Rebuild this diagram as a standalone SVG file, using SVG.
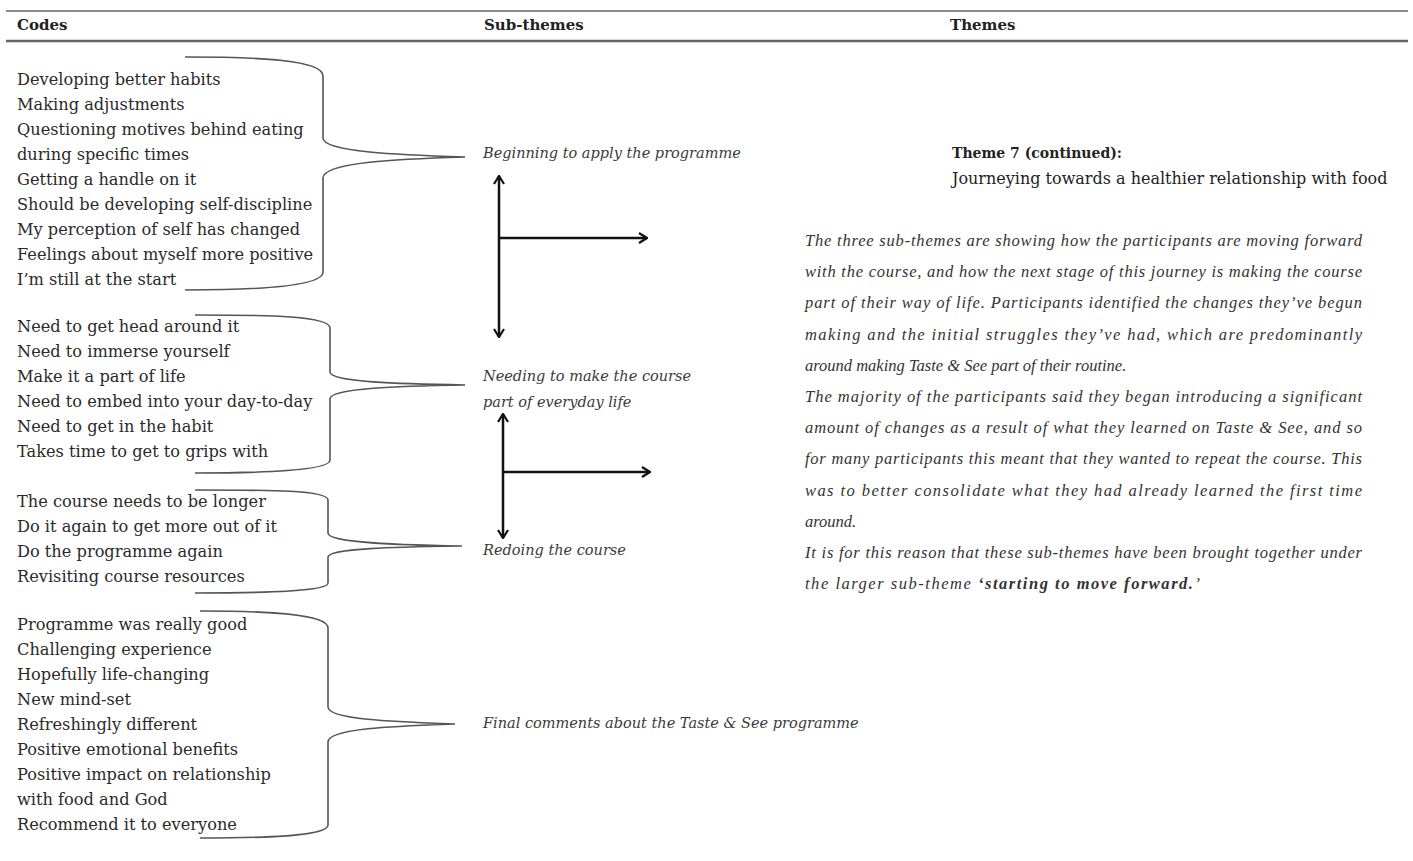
<svg xmlns="http://www.w3.org/2000/svg" width="1413" height="861" viewBox="0 0 1413 861">
<style>
.hdr{font-family:"DejaVu Serif","Liberation Serif",serif;font-weight:bold;font-size:15px;fill:#222}
.code{font-family:"DejaVu Serif","Liberation Serif",serif;font-size:16.2px;fill:#2a2a2a}
.sub{font-family:"DejaVu Serif","Liberation Serif",serif;font-style:italic;font-size:14.5px;fill:#3a3a3a}
.theme{font-family:"DejaVu Serif","Liberation Serif",serif;font-size:16px;fill:#222}
.theme.t7{font-weight:bold;font-size:14px}
.par{font-family:"Liberation Serif","DejaVu Serif",serif;font-style:italic;font-size:16.5px;fill:#333}
.brace{fill:none;stroke:#555;stroke-width:1.6}
.arrow{fill:none;stroke:#111;stroke-width:2.5}
.rule{stroke:#666}
</style>
<defs>
<marker id="chev" viewBox="0 0 10 12" refX="9" refY="6" markerWidth="10" markerHeight="12" markerUnits="userSpaceOnUse" orient="auto-start-reverse">
<path d="M1,1 L9,6 L1,11" fill="none" stroke="#111" stroke-width="2.2"/>
</marker>
</defs>
<rect width="1413" height="861" fill="#fff"/>
<g id="header">
<line class="rule" x1="6" y1="11" x2="1408" y2="11" stroke-width="1.6"/>
<line class="rule" x1="6" y1="41" x2="1408" y2="41" stroke-width="2.4" stroke="#555"/>
<text class="hdr" x="17" y="30">Codes</text>
<text class="hdr" x="484" y="30">Sub-themes</text>
<text class="hdr" x="950" y="30">Themes</text>
</g>
<g id="codes1">
<text class="code" x="17" y="85">Developing better habits</text>
<text class="code" x="17" y="110">Making adjustments</text>
<text class="code" x="17" y="135">Questioning motives behind eating</text>
<text class="code" x="17" y="160">during specific times</text>
<text class="code" x="17" y="185">Getting a handle on it</text>
<text class="code" x="17" y="210">Should be developing self-discipline</text>
<text class="code" x="17" y="235">My perception of self has changed</text>
<text class="code" x="17" y="260">Feelings about myself more positive</text>
<text class="code" x="17" y="285">I’m still at the start</text>
</g>
<g id="codes2">
<text class="code" x="17" y="332">Need to get head around it</text>
<text class="code" x="17" y="357">Need to immerse yourself</text>
<text class="code" x="17" y="382">Make it a part of life</text>
<text class="code" x="17" y="407">Need to embed into your day-to-day</text>
<text class="code" x="17" y="432">Need to get in the habit</text>
<text class="code" x="17" y="457">Takes time to get to grips with</text>
</g>
<g id="codes3">
<text class="code" x="17" y="507">The course needs to be longer</text>
<text class="code" x="17" y="532">Do it again to get more out of it</text>
<text class="code" x="17" y="557">Do the programme again</text>
<text class="code" x="17" y="582">Revisiting course resources</text>
</g>
<g id="codes4">
<text class="code" x="17" y="630">Programme was really good</text>
<text class="code" x="17" y="655">Challenging experience</text>
<text class="code" x="17" y="680">Hopefully life-changing</text>
<text class="code" x="17" y="705">New mind-set</text>
<text class="code" x="17" y="730">Refreshingly different</text>
<text class="code" x="17" y="755">Positive emotional benefits</text>
<text class="code" x="17" y="780">Positive impact on relationship</text>
<text class="code" x="17" y="805">with food and God</text>
<text class="code" x="17" y="830">Recommend it to everyone</text>
</g>
<g id="sub1"><text class="sub" x="483" y="158">Beginning to apply the programme</text></g>
<g id="sub2"><text class="sub" x="483" y="381">Needing to make the course</text><text class="sub" x="483" y="407">part of everyday life</text></g>
<g id="sub3"><text class="sub" x="483" y="555">Redoing the course</text></g>
<g id="sub4"><text class="sub" x="483" y="728">Final comments about the Taste &amp; See programme</text></g>
<g id="theme">
<text class="theme t7" x="952" y="158">Theme 7 (continued):</text>
<text class="theme" x="952" y="184">Journeying towards a healthier relationship with food</text>
</g>
<g id="summary">
<text class="par" x="805" y="246" textLength="557" lengthAdjust="spacing">The three sub-themes are showing how the participants are moving forward</text>
<text class="par" x="805" y="277" textLength="557" lengthAdjust="spacing">with the course, and how the next stage of this journey is making the course</text>
<text class="par" x="805" y="308" textLength="557" lengthAdjust="spacing">part of their way of life. Participants identified the changes they’ve begun</text>
<text class="par" x="805" y="340" textLength="557" lengthAdjust="spacing">making and the initial struggles they’ve had, which are predominantly</text>
<text class="par" x="805" y="371">around making Taste &amp; See part of their routine.</text>
<text class="par" x="805" y="402" textLength="557" lengthAdjust="spacing">The majority of the participants said they began introducing a significant</text>
<text class="par" x="805" y="433" textLength="557" lengthAdjust="spacing">amount of changes as a result of what they learned on Taste &amp; See, and so</text>
<text class="par" x="805" y="464" textLength="557" lengthAdjust="spacing">for many participants this meant that they wanted to repeat the course. This</text>
<text class="par" x="805" y="496" textLength="557" lengthAdjust="spacing">was to better consolidate what they had already learned the first time</text>
<text class="par" x="805" y="527">around.</text>
<text class="par" x="805" y="558" textLength="557" lengthAdjust="spacing">It is for this reason that these sub-themes have been brought together under</text>
<text class="par" x="805" y="589" textLength="395" lengthAdjust="spacing">the larger sub-theme <tspan font-weight="bold">‘starting to move forward.</tspan>’</text>
</g>
<g id="connectors">
<path class="brace" d="M185,57 C260,57 323,60 323,76 L323,138 C323,152 400,155 465,157 C400,159 323,162 323,178 L323,272 C323,286 260,290 185,290"/>
<path class="brace" d="M195,315 C270,315 330,316 330,328 L330,372 C330,382 400,384 465,385 C400,386 330,388 330,399 L330,460 C330,470 270,473 195,473"/>
<path class="brace" d="M195,490 C270,490 328,490 328,500 L328,533 C328,543 400,545 462,546 C400,547 328,548 328,557 L328,583 C328,591 270,593 195,593"/>
<path class="brace" d="M200,611 C270,611 328,614 328,628 L328,707 C328,720 400,722 455,724 C400,726 328,728 328,742 L328,825 C328,836 270,838 200,838"/>
<line class="arrow" x1="499" y1="176" x2="499" y2="337" marker-start="url(#chev)" marker-end="url(#chev)"/>
<line class="arrow" x1="499" y1="238" x2="647" y2="238" marker-end="url(#chev)"/>
<line class="arrow" x1="503" y1="414" x2="503" y2="538" marker-start="url(#chev)" marker-end="url(#chev)"/>
<line class="arrow" x1="503" y1="472" x2="650" y2="472" marker-end="url(#chev)"/>
</g>
</svg>
